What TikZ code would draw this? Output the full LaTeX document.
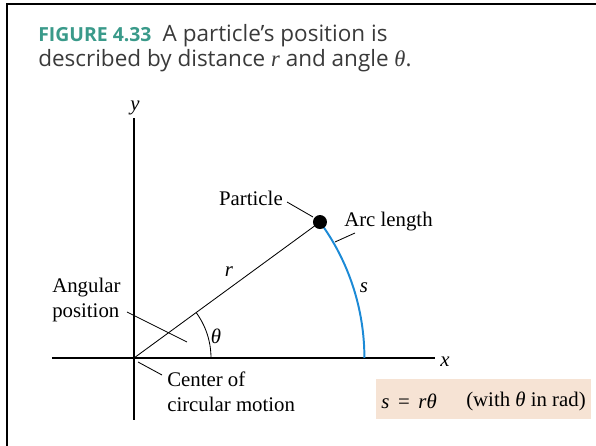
\documentclass[tikz,border=0pt]{standalone}
\usepackage{fontspec}
\setmainfont{Liberation Serif}
\newfontfamily\capfont{Open Sans}
\definecolor{Teal}{HTML}{3A9A8A}
\definecolor{CapGray}{HTML}{3A3A3A}
\definecolor{ArcBlue}{HTML}{1C8AD6}
\definecolor{Peach}{HTML}{F6E3D4}

\begin{document}
\begin{tikzpicture}[
  axis/.style={line width=1.4pt},
  thinline/.style={line width=0.6pt},
  leader/.style={line width=0.6pt},
  lbl/.style={font=\fontsize{14.8}{17.5}\selectfont, inner sep=0pt, align=left},
  var/.style={font=\fontsize{14.8}{17.5}\selectfont\itshape, inner sep=0pt}
]
\useasboundingbox (-3.35,-2.2) rectangle (11.55,8.95);

% frame, top and left only
\draw[line width=1.8pt] (-3.175,-2.4) -- (-3.175,8.85) -- (11.7,8.85);

% base anchor sits on the last line
\node[anchor=base west, align=left, inner sep=0pt, text=CapGray, font=\capfont\fontsize{16}{17.8}\selectfont] (caption) at (-2.4,7.275) {{\fontsize{13.8}{17.8}\selectfont\bfseries\color{Teal}FIGURE 4.33}\hspace{0.28cm}A particle’s position is\\described by distance {\rmfamily\itshape r} and angle {\rmfamily\itshape θ}.};

% axes
\coordinate (O) at (0,0);
\coordinate (xleft) at (-2.05,0);
\coordinate (xright) at (7.525,0);
\coordinate (ybot) at (0,-1.55);
\coordinate (ytop) at (0,6.0);
\draw[axis] (xleft) -- (xright);
\draw[axis] (ybot) -- (ytop);
\node[var] (xlabel) at (7.775,-0.1) {x};
\node[var] (ylabel) at (0.025,6.25) {y};

% arc length and radius
\coordinate (arcfoot) at (5.76,0);
\draw[line width=1.4pt, ArcBlue] (arcfoot) arc[start angle=0, end angle=36.17, radius=5.76];
\node[circle, fill=black, inner sep=0pt, minimum size=0.35cm] (particle) at (36.17:5.76) {};
\draw[thinline] (O) -- (particle.center);
\coordinate (thetafoot) at (1.925,0);
\draw[thinline] (thetafoot) arc[start angle=0, end angle=36.17, radius=1.925];

\node[var] (r) at (2.375,2.15) {r};
\node[var] (s) at (5.75,1.75) {s};
\node[var] (theta) at (2.05,0.55) {θ};

% callouts
\node[lbl, anchor=east] (particlelbl) at (3.725,4.0) {Particle};
\coordinate (particletip) at (4.475,3.525);
\draw[leader] (particlelbl.east) ++(0.1,-0.1) coordinate (particleroot) -- (particletip);

\node[lbl, anchor=west] (arclbl) at (5.25,3.4) {Arc length};
\coordinate (arctip) at (5.025,2.9);
\coordinate (arcroot) at (5.525,3.125);
\draw[leader] (arcroot) -- (arctip);

\node[lbl, anchor=west] (anglbl) at (-2.05,1.45) {Angular\\position};
\coordinate (angroot) at (-0.175,1.15);
\coordinate (angtip) at (1.325,0.4);
\draw[leader] (angroot) -- (angtip);

\node[lbl, anchor=west] (centerlbl) at (0.825,-0.85) {Center of\\circular motion};
\coordinate (centertip) at (0.1,-0.1);
\coordinate (centerroot) at (0.7,-0.425);
\draw[leader] (centerroot) -- (centertip);

% relation box
\node[fill=Peach, minimum width=5.375cm, minimum height=1cm, inner sep=0pt] (relbox) at (8.7375,-1.025) {};
\node[lbl, anchor=west] (relation) at (6.175,-1.075) {\textit{s}\, = \,\textit{rθ}};
\node[lbl, anchor=west] (relnote) at (8.3,-1.075) {(with \textit{θ} in rad)};
\end{tikzpicture}
\end{document}
